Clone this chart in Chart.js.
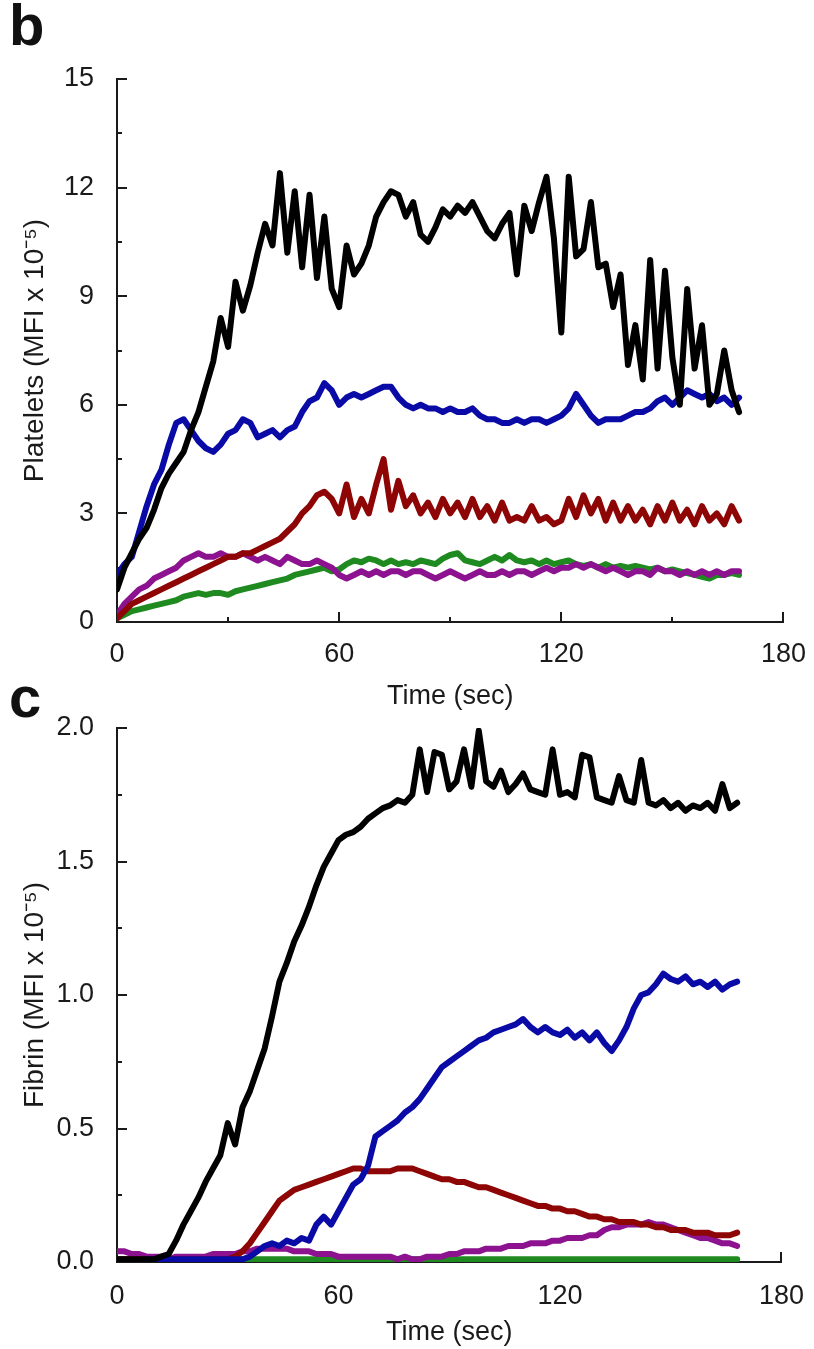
<!DOCTYPE html>
<html>
<head>
<meta charset="utf-8">
<script src="https://cdn.jsdelivr.net/npm/chart.js@4"></script>
<style>
  html, body { margin: 0; padding: 0; background: #fff; }
  #page { position: relative; width: 814px; height: 1349px; overflow: hidden; }
  .panel { position: absolute; left: 0; width: 814px; }
  .letter { position: absolute; font: bold 58px "Liberation Sans", Arial, sans-serif; color: #111; line-height: 58px; }
</style>
</head>
<body>
<div id="page">
  <div class="panel" style="top:0;height:716px"><canvas id="plateletChart" width="814" height="716"></canvas></div>
  <div class="panel" style="top:660px;height:689px"><canvas id="fibrinChart" width="814" height="689"></canvas></div>
  <div class="letter" style="left:9px;top:-4px">b</div>
  <div class="letter" style="left:9px;top:668px">c</div>
</div>
<script>
// sample times (sec)
const timeSec = [0,2,4,6,8,10,12,14,16,18,20,22,24,26,28,30,32,34,36,38,40,42,44,46,48,50,52,54,56,58,60,62,64,66,68,70,72,74,76,78,80,82,84,86,88,90,92,94,96,98,100,102,104,106,108,110,112,114,116,118,120,122,124,126,128,130,132,134,136,138,140,142,144,146,148,150,152,154,156,158,160,162,164,166,168];

// panel b - platelets (MFI x 10^-5)
const plateletBlack = [0.9,1.5,1.9,2.3,2.6,3.1,3.7,4.1,4.4,4.7,5.3,5.8,6.5,7.2,8.4,7.6,9.4,8.6,9.3,10.2,11.0,10.4,12.4,10.2,11.9,9.8,11.8,9.5,11.2,9.2,8.7,10.4,9.6,9.9,10.4,11.2,11.6,11.9,11.8,11.2,11.6,10.7,10.5,10.9,11.4,11.2,11.5,11.3,11.6,11.2,10.8,10.6,11.0,11.3,9.6,11.5,10.8,11.6,12.3,10.6,8.0,12.3,10.1,10.3,11.6,9.8,9.9,8.7,9.6,7.1,8.2,6.7,10.0,7.0,9.7,7.3,6.0,9.2,7.0,8.2,6.0,6.3,7.5,6.4,5.8];
const plateletBlue = [1.3,1.6,1.8,2.5,3.2,3.8,4.2,4.9,5.5,5.6,5.3,5.0,4.8,4.7,4.9,5.2,5.3,5.6,5.5,5.1,5.2,5.3,5.1,5.3,5.4,5.8,6.1,6.2,6.6,6.4,6.0,6.2,6.3,6.2,6.3,6.4,6.5,6.5,6.2,6.0,5.9,6.0,5.9,5.9,5.8,5.9,5.8,5.8,5.9,5.7,5.6,5.6,5.5,5.5,5.6,5.5,5.6,5.6,5.5,5.6,5.7,5.9,6.3,6.0,5.7,5.5,5.6,5.6,5.6,5.7,5.8,5.8,5.9,6.1,6.2,6.0,6.2,6.4,6.3,6.2,6.3,6.1,6.2,6.0,6.2];
const plateletRed = [0.1,0.3,0.5,0.6,0.7,0.8,0.9,1.0,1.1,1.2,1.3,1.4,1.5,1.6,1.7,1.8,1.8,1.9,1.9,2.0,2.1,2.2,2.3,2.5,2.7,3.0,3.2,3.5,3.6,3.4,3.0,3.8,2.9,3.4,3.0,3.8,4.5,3.1,3.9,3.2,3.5,3.0,3.3,2.9,3.4,3.0,3.3,2.9,3.4,2.9,3.2,2.8,3.3,2.8,2.9,2.8,3.2,2.8,2.9,2.7,2.8,3.4,2.9,3.5,3.0,3.4,2.8,3.3,2.8,3.2,2.8,3.1,2.7,3.2,2.8,3.3,2.8,3.1,2.7,3.2,2.8,3.0,2.7,3.2,2.8];
const plateletPurple = [0.2,0.5,0.7,0.9,1.0,1.2,1.3,1.4,1.5,1.7,1.8,1.9,1.8,1.8,1.9,1.8,1.8,1.9,1.8,1.7,1.8,1.7,1.6,1.8,1.7,1.6,1.6,1.7,1.6,1.5,1.3,1.2,1.3,1.4,1.3,1.4,1.3,1.4,1.4,1.3,1.4,1.4,1.3,1.2,1.3,1.4,1.3,1.2,1.3,1.4,1.3,1.3,1.4,1.3,1.4,1.4,1.3,1.4,1.5,1.4,1.5,1.5,1.6,1.5,1.6,1.5,1.4,1.5,1.4,1.3,1.4,1.4,1.3,1.5,1.4,1.4,1.3,1.4,1.3,1.4,1.3,1.4,1.3,1.4,1.4];
const plateletGreen = [0.1,0.2,0.3,0.35,0.4,0.45,0.5,0.55,0.6,0.7,0.75,0.8,0.75,0.8,0.8,0.75,0.85,0.9,0.95,1.0,1.05,1.1,1.15,1.2,1.3,1.35,1.4,1.45,1.5,1.4,1.45,1.6,1.7,1.65,1.75,1.7,1.6,1.7,1.6,1.65,1.6,1.7,1.65,1.6,1.75,1.85,1.9,1.7,1.65,1.6,1.7,1.8,1.7,1.85,1.7,1.65,1.7,1.6,1.7,1.6,1.65,1.7,1.6,1.55,1.6,1.5,1.6,1.5,1.55,1.5,1.55,1.5,1.45,1.5,1.4,1.45,1.4,1.35,1.3,1.25,1.2,1.3,1.3,1.35,1.3];

// panel c - fibrin (MFI x 10^-5)
const fibrinBlack = [0.01,0.01,0.01,0.01,0.01,0.01,0.02,0.03,0.08,0.14,0.19,0.24,0.30,0.35,0.40,0.52,0.44,0.58,0.64,0.72,0.80,0.92,1.05,1.12,1.20,1.26,1.33,1.41,1.48,1.53,1.58,1.60,1.61,1.63,1.66,1.68,1.70,1.71,1.73,1.72,1.75,1.92,1.76,1.91,1.90,1.77,1.80,1.92,1.78,1.99,1.80,1.78,1.84,1.76,1.79,1.83,1.77,1.76,1.75,1.92,1.75,1.76,1.74,1.90,1.89,1.74,1.73,1.72,1.82,1.73,1.72,1.88,1.72,1.71,1.73,1.70,1.72,1.69,1.71,1.70,1.72,1.69,1.79,1.70,1.72];
const fibrinBlue = [0.00,0.00,0.00,0.00,0.01,0.01,0.01,0.01,0.01,0.01,0.01,0.01,0.01,0.01,0.01,0.01,0.01,0.01,0.02,0.04,0.06,0.07,0.06,0.08,0.07,0.09,0.08,0.14,0.17,0.14,0.19,0.24,0.29,0.31,0.36,0.47,0.49,0.51,0.53,0.56,0.58,0.61,0.65,0.69,0.73,0.75,0.77,0.79,0.81,0.83,0.84,0.86,0.87,0.88,0.89,0.91,0.88,0.86,0.88,0.86,0.85,0.87,0.84,0.86,0.83,0.86,0.82,0.79,0.83,0.88,0.95,1.00,1.01,1.04,1.08,1.06,1.05,1.07,1.04,1.05,1.03,1.05,1.02,1.04,1.05];
const fibrinRed = [0.01,0.01,0.01,0.01,0.01,0.01,0.01,0.01,0.01,0.01,0.01,0.01,0.01,0.01,0.01,0.01,0.02,0.04,0.07,0.11,0.15,0.19,0.23,0.25,0.27,0.28,0.29,0.30,0.31,0.32,0.33,0.34,0.35,0.35,0.34,0.34,0.34,0.34,0.35,0.35,0.35,0.34,0.33,0.32,0.31,0.31,0.30,0.30,0.29,0.28,0.28,0.27,0.26,0.25,0.24,0.23,0.22,0.21,0.21,0.20,0.20,0.19,0.19,0.18,0.17,0.17,0.16,0.16,0.15,0.15,0.15,0.14,0.14,0.13,0.13,0.12,0.12,0.12,0.11,0.11,0.11,0.10,0.10,0.10,0.11];
const fibrinPurple = [0.04,0.04,0.03,0.03,0.02,0.02,0.02,0.01,0.02,0.02,0.02,0.02,0.02,0.03,0.03,0.03,0.03,0.04,0.04,0.05,0.05,0.05,0.05,0.05,0.04,0.04,0.04,0.03,0.03,0.03,0.02,0.02,0.02,0.02,0.02,0.02,0.02,0.02,0.01,0.02,0.01,0.01,0.02,0.02,0.02,0.03,0.03,0.04,0.04,0.04,0.05,0.05,0.05,0.06,0.06,0.06,0.07,0.07,0.07,0.08,0.08,0.09,0.09,0.09,0.10,0.10,0.12,0.13,0.13,0.14,0.14,0.14,0.15,0.14,0.14,0.13,0.12,0.11,0.10,0.09,0.09,0.08,0.07,0.07,0.06];
const fibrinGreen = [0.01,0.01,0.01,0.01,0.01,0.01,0.01,0.01,0.01,0.01,0.01,0.01,0.01,0.01,0.01,0.01,0.01,0.01,0.01,0.01,0.01,0.01,0.01,0.01,0.01,0.01,0.01,0.01,0.01,0.01,0.01,0.01,0.01,0.01,0.01,0.01,0.01,0.01,0.01,0.01,0.01,0.01,0.01,0.01,0.01,0.01,0.01,0.01,0.01,0.01,0.01,0.01,0.01,0.01,0.01,0.01,0.01,0.01,0.01,0.01,0.01,0.01,0.01,0.01,0.01,0.01,0.01,0.01,0.01,0.01,0.01,0.01,0.01,0.01,0.01,0.01,0.01,0.01,0.01,0.01,0.01,0.01,0.01,0.01,0.01];

// axis ticks
const timeMajor = [0, 60, 120, 180];
const timeMinor = [30, 90, 150];
const plateletMajor = [0, 3, 6, 9, 12, 15];
const plateletMinor = [1.5, 4.5, 7.5, 10.5, 13.5];
const fibrinMajor = [0, 0.5, 1, 1.5, 2];
const fibrinMinor = [0.25, 0.75, 1.25, 1.75];

const colors = {
    black: "#000000",
    blue: "#0a0aa6",
    red: "#8e0505",
    purple: "#8c128f",
    green: "#1f8a1f",
};

Chart.defaults.font.family = '"Liberation Sans", Arial, sans-serif';
Chart.defaults.color = "#1a1a1a";

// tick marks drawn on the inside of the axes, like the original plot
const inwardTicks = {
    id: "inwardTicks",
    beforeDatasetsDraw(chart, args, opts) {
        const { ctx } = chart;
        const xs = chart.scales.x;
        const ys = chart.scales.y;
        ctx.save();
        ctx.strokeStyle = "#1a1a1a";
        ctx.lineWidth = 2;
        ctx.beginPath();
        const xTick = (v, len) => {
            const px = Math.round(xs.getPixelForValue(v));
            ctx.moveTo(px, ys.bottom);
            ctx.lineTo(px, ys.bottom - len);
        };
        const yTick = (v, len) => {
            const py = Math.round(ys.getPixelForValue(v));
            ctx.moveTo(xs.left, py);
            ctx.lineTo(xs.left + len, py);
        };
        (opts.xMajor || []).forEach((v) => xTick(v, 10));
        (opts.xMinor || []).forEach((v) => xTick(v, 5));
        (opts.yMajor || []).forEach((v) => yTick(v, 10));
        (opts.yMinor || []).forEach((v) => yTick(v, 5));
        ctx.stroke();
        ctx.restore();
    },
};

function series(values, color) {
    return {
        data: timeSec.map((t, i) => ({ x: t, y: values[i] })),
        borderColor: color,
        borderWidth: 6,
        borderJoinStyle: "round",
        borderCapStyle: "round",
        pointRadius: 0,
        tension: 0,
        fill: false,
    };
}

function makeChart(canvasId, cfg) {
    return new Chart(document.getElementById(canvasId), {
        type: "line",
        data: { datasets: cfg.datasets },
        plugins: [inwardTicks],
        options: {
            responsive: false,
            animation: false,
            events: [],
            layout: { padding: { top: cfg.top, right: cfg.right, left: 0, bottom: 0 } },
            plugins: {
                legend: { display: false },
                tooltip: { enabled: false },
                inwardTicks: cfg.ticks,
            },
            scales: {
                x: {
                    type: "linear",
                    min: 0,
                    max: 180,
                    grid: { display: false },
                    border: { display: true, color: "#1a1a1a", width: 2 },
                    ticks: { stepSize: 60, font: { size: 27 }, padding: cfg.xPad, maxRotation: 0 },
                    title: {
                        display: true,
                        text: "Time (sec)",
                        font: { size: 27 },
                        padding: { top: 0, bottom: cfg.titlePad },
                    },
                    afterFit: (s) => { s.height = cfg.xHeight; },
                },
                y: {
                    min: 0,
                    max: cfg.yMax,
                    grid: { display: false },
                    border: { display: true, color: "#1a1a1a", width: 2 },
                    ticks: {
                        stepSize: cfg.yStep,
                        font: { size: 27 },
                        padding: 15,
                        callback: cfg.yFmt,
                    },
                    title: {
                        display: true,
                        text: cfg.yTitle,
                        font: { size: 28 },
                        padding: { top: 18, bottom: 0 },
                    },
                    afterFit: (s) => { s.width = 117; },
                },
            },
        },
    });
}

makeChart("plateletChart", {
    datasets: [
        series(plateletBlack, colors.black),
        series(plateletBlue, colors.blue),
        series(plateletRed, colors.red),
        series(plateletPurple, colors.purple),
        series(plateletGreen, colors.green),
    ],
    top: 79,
    right: 28,
    xHeight: 94,
    xPad: 8,
    titlePad: 3,
    yMax: 15,
    yStep: 3,
    yFmt: (v) => v,
    yTitle: "Platelets (MFI x 10\u207B\u2075)",
    ticks: { xMajor: timeMajor, xMinor: timeMinor, yMajor: plateletMajor, yMinor: plateletMinor },
});

makeChart("fibrinChart", {
    datasets: [
        series(fibrinBlack, colors.black),
        series(fibrinBlue, colors.blue),
        series(fibrinRed, colors.red),
        series(fibrinPurple, colors.purple),
        series(fibrinGreen, colors.green),
    ],
    top: 68,
    right: 32,
    xHeight: 87,
    xPad: 10,
    titlePad: 0,
    yMax: 2,
    yStep: 0.5,
    yFmt: (v) => v.toFixed(1),
    yTitle: "Fibrin (MFI x 10\u207B\u2075)",
    ticks: { xMajor: [180], yMajor: fibrinMajor, yMinor: fibrinMinor },
});
</script>
</body>
</html>
